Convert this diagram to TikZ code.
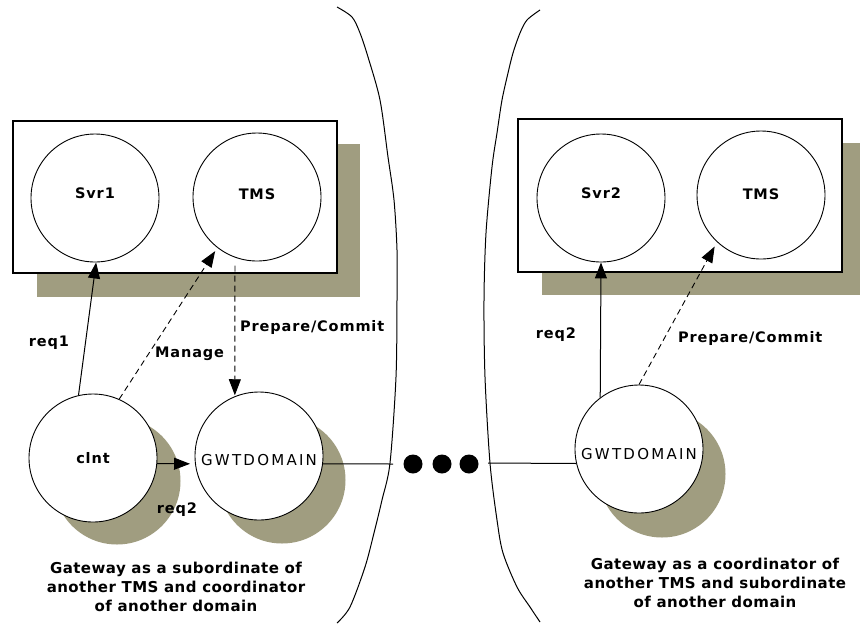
\documentclass[tikz,border=0pt]{standalone}
\usepackage{fontspec}
\setmainfont{DejaVu Sans}
\usetikzlibrary{arrows.meta,calc}
\definecolor{shadowc}{RGB}{160,157,128}
\newcommand{\lblf}{\fontsize{14.5}{17}\selectfont\bfseries\addfontfeature{LetterSpace=6}}
\newcommand{\gwf}{\fontsize{15}{18}\selectfont\addfontfeature{LetterSpace=15}}
\newcommand{\capf}{\fontsize{15}{19}\selectfont\bfseries\addfontfeature{LetterSpace=3}}
\begin{document}
\begin{tikzpicture}[x=1pt,y=-1pt,
  bub/.style={circle,draw,line width=0.9pt,fill=white,minimum size=128pt,inner sep=0pt},
  shadc/.style={circle,fill=shadowc,minimum size=127pt,inner sep=0pt},
  boxr/.style={draw,line width=1.2pt,fill=white},
  shadr/.style={fill=shadowc},
  lbl/.style={font=\lblf,inner sep=0pt},
  gwl/.style={font=\gwf,inner sep=0pt},
  capt/.style={font=\capf,align=center,inner sep=0pt},
  brk/.style={line width=1pt},
  sarrow/.style={line width=1pt,-{Triangle[length=16pt,width=12pt]}},
  darrow/.style={line width=0.9pt,dash pattern=on 6pt off 4pt,-{Triangle[length=16pt,width=12pt]}},
  plain/.style={line width=1pt},
  dotn/.style={circle,fill=black,minimum size=19pt,inner sep=0pt}]
\useasboundingbox (0,0) rectangle (860,625);
\fill[white] (0,0) rectangle (860,625);

% brackets
\draw[brk] plot[smooth] coordinates {(337,7) (352,17) (360,33) (368,57) (380,100) (388,157) (394,200) (397,250) (397,300) (396,377) (390,463) (382,500) (374,533) (365,567) (350,607) (337,623)};
\draw[brk] plot[smooth] coordinates {(540,10) (527,20) (520,33) (513,53) (508,73) (502,100) (497,133) (492,167) (486,233) (484,300) (485,377) (490,463) (497,520) (503,553) (517,587) (530,607) (540,622)};

% box shadows and boxes
\fill[shadr] (37,144) rectangle (360,297);
\fill[shadr] (542,143) rectangle (866,295);
\draw[boxr] (13,121) rectangle (337,273);
\draw[boxr] (518,119) rectangle (842,272);

% circle shadows
\node[shadc] (clntsh) at (117,481) {};
\node[shadc] (gwash) at (282,480) {};
\node[shadc] (gwbsh) at (662,474) {};

% circles
\node[bub,label={[lbl,yshift=5pt]center:Svr1}] (svra) at (95,198) {};
\node[bub,label={[lbl,yshift=3pt]center:TMS}] (tmsa) at (257,197) {};
\node[bub,label={[lbl,yshift=5pt]center:Svr2}] (svrb) at (601,198) {};
\node[bub,label={[lbl,yshift=1pt]center:TMS}] (tmsb) at (761,195) {};
\node[bub,label={[lbl]center:clnt}] (clnt) at (93,458) {};
\node[bub,label={[gwl,yshift=-4pt]center:GWTDOMAIN}] (gwa) at (259,456) {};
\node[bub,label={[gwl,yshift=-5pt]center:GWTDOMAIN}] (gwb) at (639,449) {};

% dots
\node[dotn] (da) at (413,464) {};
\node[dotn] (db) at (442,464) {};
\node[dotn] (dc) at (469,464) {};
\coordinate (ea) at (393,464);
\coordinate (eb) at (488,463);

% connectors
\draw[sarrow] (clnt.103) -- (svra.-89);
\draw[darrow,shorten >=4pt] (clnt.66) -- (tmsa.232);
\draw[darrow,shorten <=8pt,shorten >=1pt] (tmsa.-110) -- (gwa.112);
\draw[sarrow,shorten >=5pt] (clnt.-5) -- (gwa.187);
\draw[plain] (gwa.-7) -- (ea);
\draw[plain] (eb) -- (gwb.193);
\draw[sarrow] (gwb.127) -- (svrb.south);
\draw[darrow,shorten >=5pt] (gwb.north) -- (tmsb.227);

% labels
\node[lbl] (lreqa) at (49,343) {req1};
\node[lbl,anchor=west] (lman) at (155,354) {Manage};
\node[lbl,anchor=west] (lpca) at (240,327) {Prepare/Commit};
\node[lbl] (lreqb) at (177,510) {req2};
\node[lbl] (lreqc) at (556,335) {req2};
\node[lbl,anchor=west] (lpcb) at (678,338) {Prepare/Commit};

% captions
\node[capt] (capa) at (176,587) {Gateway as a subordinate of\\another TMS and coordinator\\of another domain};
\node[capt] (capb) at (715,583) {Gateway as a coordinator of\\another TMS and subordinate\\of another domain};
\end{tikzpicture}
\end{document}
